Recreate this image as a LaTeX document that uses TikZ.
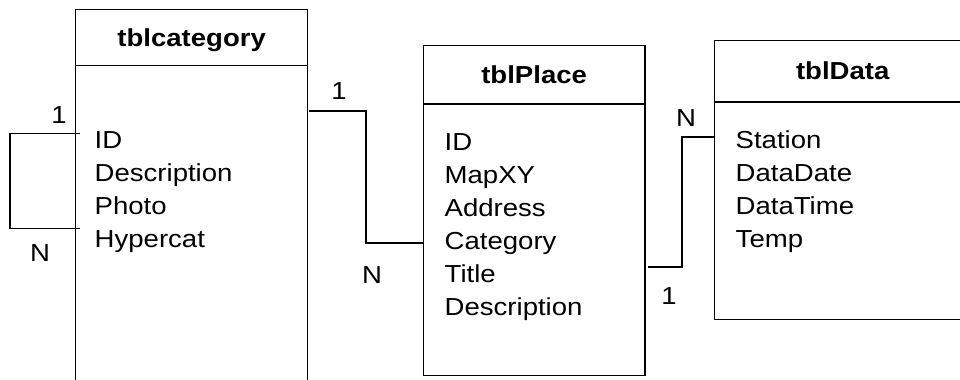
\documentclass[tikz,border=0pt]{standalone}
\usepackage{fontspec}
\setmainfont{Liberation Sans}[FakeStretch=1.12]
\usetikzlibrary{calc}

\begin{document}
\begin{tikzpicture}[x=.02cm,y=-.02cm,line width=.8pt,
  tbl/.style={draw,anchor=north west,inner sep=0},
  head/.style={anchor=north,inner sep=0,font=\fontsize{14}{16}\selectfont\bfseries},
  field/.style={anchor=base west,inner sep=0,text height=10pt,text depth=3pt,
    font=\fontsize{14}{16}\selectfont},
  card/.style={inner sep=0,font=\fontsize{14}{16}\selectfont}]
  \useasboundingbox (0,0) rectangle (960,379);
  % tblcategory
  \node[tbl,minimum width=4.64cm,minimum height=7.9cm] (cat) at (75,9) {};
  \node[head,minimum height=1.1cm,text depth=0pt] (catHead) at (cat.north) {tblcategory};
  \draw (cat.west |- catHead.south) -- (cat.east |- catHead.south);
  \foreach \t [count=\i from 0] in {ID,Description,Photo,Hypercat}
    \node[field] (cat\i) at (94,148+33*\i) {\t};
  % tblPlace
  \node[tbl,minimum width=4.43cm,minimum height=6.6cm] (place) at (422.7,45) {};
  \node[head,minimum height=1.154cm] (placeHead) at (place.north) {tblPlace};
  \draw (place.west |- placeHead.south) -- (place.east |- placeHead.south);
  \foreach \t [count=\i from 0] in {ID,MapXY,Address,Category,Title,Description}
    \node[field] (place\i) at (444,150+33*\i) {\t};
  % tblData
  \node[tbl,minimum width=5.12cm,minimum height=5.58cm] (data) at (714,40) {};
  \node[head,minimum height=1.214cm] (dataHead) at (data.north) {tblData};
  \draw (data.west |- dataHead.south) -- (data.east |- dataHead.south);
  \foreach \t [count=\i from 0] in {Station,DataDate,DataTime,Temp}
    \node[field] (data\i) at (735,148+33*\i) {\t};
  % relations
  \draw ($(cat.west |- cat0.north)+(5,4)$) -- ++(-70,0)
    |- ($(cat.west |- cat3.north)+(5,0)$);
  \coordinate (catOut) at (309,111);
  \draw (catOut) -- ++(57,0) |- (place.west |- place3.west);
  \coordinate (placeOut) at (648,267);
  \draw (placeOut) -- ++(34,0) |- ($(data.west |- data0.west)+(0,-5)$);
  \node[card] (loopOne) at (59,115) {1};
  \node[card] (loopN) at (40,253) {N};
  \node[card] (catOne) at (339,91) {1};
  \node[card] (placeN) at (372,275) {N};
  \node[card] (dataN) at (686,118) {N};
  \node[card] (placeOne) at (669,296) {1};
\end{tikzpicture}
\end{document}
